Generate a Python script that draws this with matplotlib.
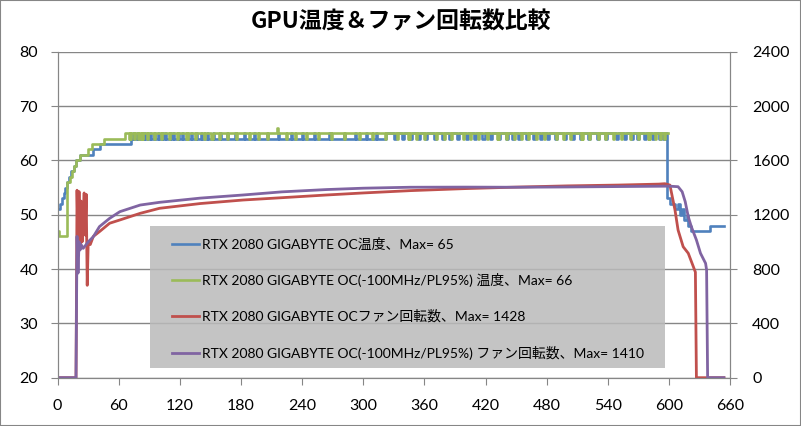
import matplotlib
matplotlib.use("Agg")
import matplotlib.pyplot as plt
from matplotlib.patches import Rectangle

# temperature (seconds, deg C), drawn as steps
blue_ramp_t = [0, 2, 4, 6, 7, 9, 11, 13, 16, 18, 22, 35, 42, 72]
blue_ramp_v = [51, 52, 53, 54, 55, 56, 57, 58, 59, 60, 61, 62, 63, 64]
# short jumps to 65 while blue sits at 64
blue_up = [74, 78, 82, 85, 88, 91, 95, 98, 102, 105, 110, 113, 118, 122, 127,
           131, 136, 141, 147, 152, 159, 166, 174, 183, 193, 205, 216, 229,
           240, 252, 266, 281, 292, 303, 312]
blue_high_from = 322
# short dips to 64 while blue sits at 65
blue_dip = [330, 338, 346, 354, 361, 369, 377, 384, 392, 401, 409, 417, 424,
            432, 440, 446, 452, 460, 467, 473, 480, 488, 497, 505, 513, 521,
            529, 537, 548, 556, 563, 569, 576, 583, 590, 594]
blue_tail_t = [598, 601, 606, 609, 611, 613, 615, 618, 619, 622, 640, 654]
blue_tail_v = [53, 52, 51, 52, 50, 51, 49, 50, 48, 47, 48, 48]

green_ramp_t = [0, 1, 9, 12, 14, 16, 18, 22, 30, 34, 45, 66]
green_ramp_v = [47, 46, 56, 57, 58, 59, 60, 61, 62, 63, 64, 65]
green_dip = [70, 71, 75, 79, 82, 83, 88, 95, 101, 109, 117, 126, 127, 135, 144,
             151, 158, 166, 175, 188, 197, 205, 224, 233, 244, 256, 268, 281,
             296, 309, 321, 333, 344, 345, 352, 360, 371, 379, 386, 398, 405,
             413, 421, 431, 432, 440, 448, 455, 462, 470, 477, 489, 496, 503,
             514, 515, 522, 530, 537, 545, 553, 562, 570, 579, 580, 586, 591, 595]
green_peak = 215  # the one reading of 66
green_end = 599

# fan speed (seconds, rpm)
red_t = [0, 18, 19, 20, 21, 22, 23, 24, 26, 27, 28, 29, 30, 32, 35, 41, 51,
         61, 81, 100, 140, 182, 220, 264, 300, 346, 400, 450, 500, 550,
         590, 596, 601, 606, 609, 614, 619, 624, 626, 627, 654]
red_v = [0, 0, 1380, 1000, 1370, 950, 1300, 1000, 1360, 1050, 1350, 680,
         1000, 980, 1040, 1075, 1137, 1161, 1210, 1247, 1282, 1308, 1325,
         1345, 1360, 1377, 1392, 1403, 1412, 1418, 1425, 1428, 1418, 1233,
         1087, 964, 916, 817, 777, 0, 0]

purple_t = [0, 18, 19, 20, 21, 22, 23, 25, 30, 35, 41, 51, 61, 81, 100,
            140, 182, 220, 264, 300, 346, 400, 450, 500, 550, 600, 609,
            613, 616, 619, 622, 627, 631, 636, 637, 638, 654]
purple_v = [0, 0, 1040, 770, 1000, 940, 980, 952, 1000, 1038, 1112, 1173,
            1222, 1271, 1291, 1322, 1345, 1368, 1385, 1395, 1402, 1403,
            1402, 1404, 1407, 1410, 1406, 1369, 1296, 1185, 1112, 1014,
            916, 842, 793, 0, 0]

labels = ["RTX 2080 GIGABYTE OC温度、Max= 65",
          "RTX 2080 GIGABYTE OC(-100MHz/PL95%) 温度、Max= 66",
          "RTX 2080 GIGABYTE OCファン回転数、Max= 1428",
          "RTX 2080 GIGABYTE OC(-100MHz/PL95%) ファン回転数、Max= 1410"]
colors = ["#4F81BD", "#9BBB59", "#C0504D", "#8064A2"]

# assemble step change points
blue_t = list(blue_ramp_t)
blue_v = list(blue_ramp_v)
for t in blue_up:
    blue_t += [t, t + 1]
    blue_v += [65, 64]
blue_t.append(blue_high_from)
blue_v.append(65)
for t in blue_dip:
    blue_t += [t, t + 2]
    blue_v += [64, 65]
blue_t += blue_tail_t
blue_v += blue_tail_v

green_t = list(green_ramp_t)
green_v = list(green_ramp_v)
for t in sorted(green_dip + [green_peak]):
    green_t += [t, t + 1]
    green_v += [66 if t == green_peak else 64, 65]
green_t.append(green_end)
green_v.append(65)

font = ["Lato", "Noto Sans CJK JP", "DejaVu Sans"]
gray = "#868686"

fig = plt.figure(figsize=(8.01, 4.26), dpi=100)
fig.patches.append(Rectangle((0, 0), 1, 1, transform=fig.transFigure,
                             fill=False, edgecolor=gray, linewidth=1.5))
ax = fig.add_axes([0.072, 0.1134, 0.8394, 0.7653])
ax2 = ax.twinx()

l1, = ax.plot(blue_t, blue_v, drawstyle="steps-post", color=colors[0], lw=1.9)
l2, = ax.plot(green_t, green_v, drawstyle="steps-post", color=colors[1], lw=1.9)
l3, = ax2.plot(red_t, red_v, color=colors[2], lw=2.0)
l4, = ax2.plot(purple_t, purple_v, color=colors[3], lw=2.0)

ax.set_xlim(0, 660)
ax.set_ylim(20, 80)
ax2.set_ylim(0, 2400)
ax.set_xticks(range(0, 661, 60))
ax.set_yticks(range(20, 81, 10))
ax2.set_yticks(range(0, 2401, 400))
ax.grid(axis="y", color=gray, lw=1.0)

for a in (ax, ax2):
    for s in a.spines.values():
        s.set_color(gray)
    a.spines["top"].set_visible(False)
ax.tick_params(axis="x", length=5, color=gray, pad=10, labelsize=11.5)
ax.tick_params(axis="y", length=5, color=gray, pad=9, labelsize=11.5)
ax2.tick_params(axis="y", length=5, color=gray, pad=11, labelsize=11.5)
for lab in ax.get_xticklabels() + ax.get_yticklabels() + ax2.get_yticklabels():
    lab.set_family(font)

# legend background, gridlines show through a little
ax2.add_patch(Rectangle((0.137, 0.03), 0.766, 0.435, transform=ax2.transAxes,
                        facecolor="#BABABA", alpha=0.85, edgecolor="none", zorder=1))
ax2.legend([l1, l2, l3, l4], labels, loc="upper left",
           bbox_to_anchor=(0.1696, 0.43), frameon=False,
           prop={"family": font, "size": 10}, handlelength=2.0,
           handletextpad=0.2, labelspacing=1.62, borderaxespad=0, borderpad=0)

fig.suptitle("GPU温度＆ファン回転数比較", x=0.5, y=0.975, fontsize=16.5,
             fontweight="bold", family=["Noto Sans CJK JP", "DejaVu Sans"])

fig.savefig("out.png", dpi=100)
